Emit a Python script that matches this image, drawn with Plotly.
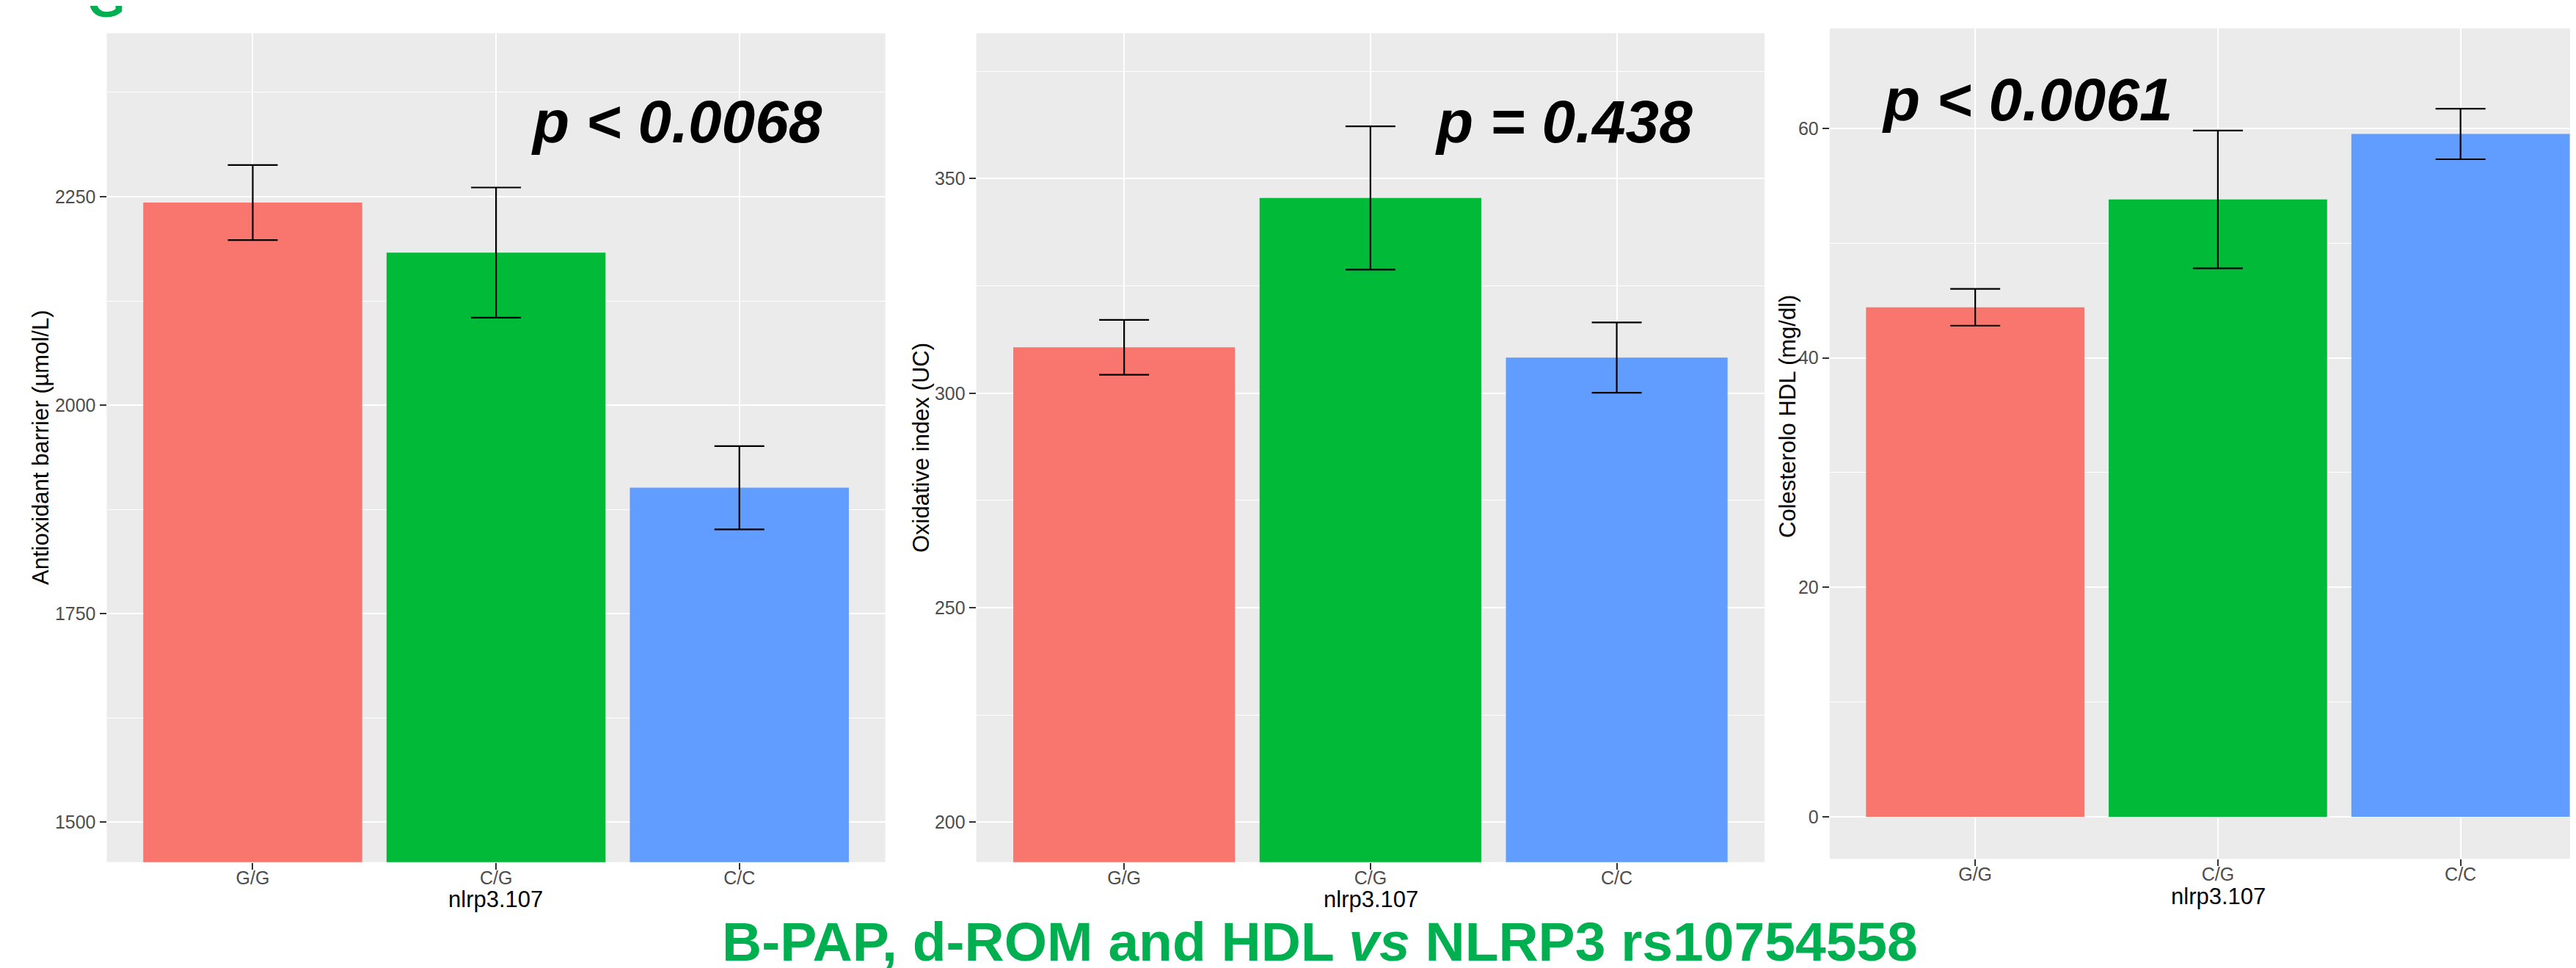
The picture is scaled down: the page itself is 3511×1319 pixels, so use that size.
import plotly.graph_objects as go

W, H = 3511, 1319

genotypes = ["G/G", "C/G", "C/C"]
colors = ["#F8766D", "#00BA38", "#619CFF"]

bpap_mean = [2243, 2183, 1901]
bpap_err = [45, 78, 50]

drom_mean = [310.7, 345.5, 308.3]
drom_err = [6.4, 16.7, 8.2]

hdl_mean = [44.4, 53.8, 59.5]
hdl_err = [1.6, 6.0, 2.2]

y_titles = ["Antioxidant barrier (µmol/L)", "Oxidative index (UC)", "Colesterolo HDL (mg/dl)"]
x_title = "nlrp3.107"
p_labels = ["p < 0.0068", "p = 0.438", "p < 0.0061"]
main_title = "B-PAP, d-ROM and HDL <i>vs</i> NLRP3 rs10754558"

y_ticks = [[1500, 1750, 2000, 2250], [200, 250, 300, 350], [0, 20, 40, 60]]


def px_x(x):
    return x / W


def px_y(y):
    return 1 - y / H


panels = [
    dict(mean=bpap_mean, err=bpap_err, xdom=[137.5, 1198.7], ydom=[1166.7, 37.3],
         yrange=[1452.1, 2446], xrange=[-0.6, 2.6], minor=125),
    dict(mean=drom_mean, err=drom_err, xdom=[1322.7, 2397], ydom=[1166.7, 37.3],
         yrange=[190.7, 383.9], xrange=[-0.6, 2.6], minor=25),
    dict(mean=hdl_mean, err=hdl_err, xdom=[2485.7, 3511], ydom=[1162.3, 30.7],
         yrange=[-3.66, 68.7], xrange=[-0.6, 2.5], minor=10),
]

fig = go.Figure()
layout = dict(
    width=W, height=H,
    margin=dict(l=0, r=0, t=0, b=0),
    paper_bgcolor="white",
    plot_bgcolor="#EBEBEB",
    showlegend=False,
    bargap=0.1,
    annotations=[],
)

tick_font = dict(family="Liberation Sans, Arial, sans-serif", size=25, color="#4D4D4D")

for i, p in enumerate(panels):
    n = "" if i == 0 else str(i + 1)
    fig.add_trace(go.Bar(
        x=genotypes, y=p["mean"],
        marker=dict(color=colors, line=dict(width=0)),
        width=0.9,
        error_y=dict(type="data", array=p["err"], visible=True,
                     color="black", thickness=2.2, width=34),
        xaxis="x" + n, yaxis="y" + n,
    ))
    layout["xaxis" + n] = dict(
        domain=[px_x(p["xdom"][0]), px_x(p["xdom"][1])],
        anchor="y" + n,
        type="category",
        categoryorder="array", categoryarray=genotypes,
        range=p["xrange"],
        showgrid=True, gridcolor="white", gridwidth=2.2,
        zeroline=False, showline=False,
        ticks="outside", ticklen=9, tickwidth=2, tickcolor="#333333",
        ticklabelstandoff=-10,
        tickfont=tick_font,
    )
    layout["yaxis" + n] = dict(
        domain=[px_y(p["ydom"][0]), px_y(p["ydom"][1])],
        anchor="x" + n,
        range=p["yrange"],
        tickvals=y_ticks[i],
        showgrid=True, gridcolor="white", gridwidth=2.2,
        minor=dict(dtick=p["minor"], tick0=0, showgrid=True, gridcolor="white", gridwidth=1.1, ticks=""),
        zeroline=False, showline=False,
        ticks="outside", ticklen=9, tickwidth=2, tickcolor="#333333",
        tickfont=tick_font,
    )

title_font = dict(family="Liberation Sans, Arial, sans-serif", size=31, color="black")

# y-axis titles
for (cx, cy), t in zip([(47, 602), (1247, 602), (2428, 560)], y_titles):
    layout["annotations"].append(dict(
        text=t, x=px_x(cx), y=px_y(cy), xref="paper", yref="paper",
        xanchor="center", yanchor="middle", textangle=-90, showarrow=False,
        font=title_font))

# x-axis titles
for cx, cy in [(667, 1217), (1860, 1217), (3015, 1213)]:
    layout["annotations"].append(dict(
        text=x_title, x=px_x(cx), y=px_y(cy), xref="paper", yref="paper",
        xanchor="center", yanchor="middle", showarrow=False, font=title_font))

# p-value labels
p_font = dict(family="Liberation Sans, Arial, sans-serif", size=82, color="black")
for (lx, cy), t in zip([(714, 158), (1946, 158), (2555, 128)], p_labels):
    layout["annotations"].append(dict(
        text="<b><i>" + t + "</i></b>", x=px_x(lx), y=px_y(cy), xref="paper", yref="paper",
        xanchor="left", yanchor="middle", showarrow=False, font=p_font))

# main caption
layout["annotations"].append(dict(
    text="<b>" + main_title + "</b>", x=px_x(1791), y=px_y(1275), xref="paper", yref="paper",
    xanchor="center", yanchor="middle", showarrow=False,
    font=dict(family="Liberation Sans, Arial, sans-serif", size=75, color="#00B050")))

# partially visible green letter at top-left (cut off by the top edge, as in the source)
layout["annotations"].append(dict(
    text="<b>G</b>", x=px_x(136), y=px_y(31), xref="paper", yref="paper",
    xanchor="center", yanchor="bottom", showarrow=False,
    font=dict(family="Liberation Sans, Arial, sans-serif", size=66, color="#00B050")))

fig.update_layout(**layout)
fig.write_html("out.html")
